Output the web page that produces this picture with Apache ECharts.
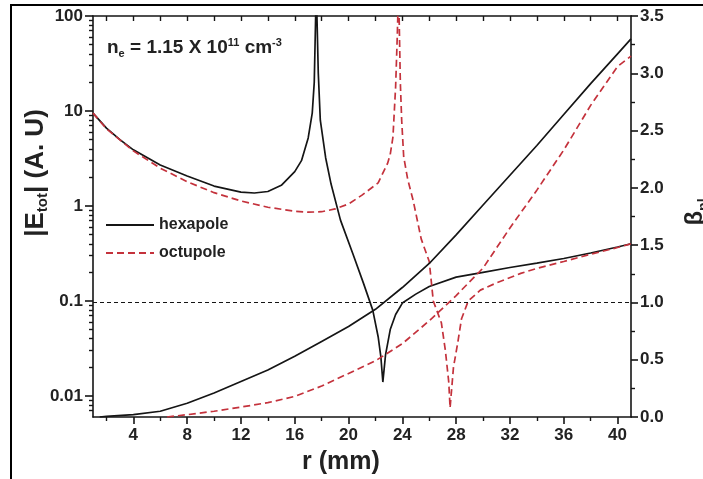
<!DOCTYPE html>
<html>
<head>
<meta charset="utf-8">
<title>E_tot vs r</title>
<script src="https://cdn.jsdelivr.net/npm/echarts@6/dist/echarts.min.js"></script>
<style>
  html, body { margin: 0; padding: 0; background: #fff; }
  #chart { width: 703px; height: 479px; }
</style>
</head>
<body>
<div id="chart"></div>
<script>
// r (mm) ticks
const xMajor = [4, 8, 12, 16, 20, 24, 28, 32, 36, 40];
const xMinor = [2, 6, 10, 14, 18, 22, 26, 30, 34, 38];
const yLogLabels = [0.01, 0.1, 1, 10, 100];

// |E_tot| hexapole (left, log)
const hexR = [1, 2, 3, 4, 6, 8, 10, 12, 13, 14, 15, 16, 16.5, 17, 17.3, 17.45, 17.6, 17.75, 17.9, 18.3, 18.7, 19.4, 20.3, 21.1, 21.8, 22.2, 22.4, 22.55, 22.75, 23.1, 23.5, 24, 25, 26, 28, 30, 32, 34, 36, 38, 40, 41];
const hexE = [9.5, 6.6, 5.0, 3.9, 2.7, 2.07, 1.62, 1.4, 1.37, 1.42, 1.65, 2.3, 3.0, 5.2, 9.5, 20, 200, 25, 8, 3.2, 1.7, 0.71, 0.32, 0.155, 0.08, 0.042, 0.026, 0.014, 0.027, 0.05, 0.072, 0.095, 0.118, 0.142, 0.178, 0.2, 0.225, 0.25, 0.28, 0.32, 0.37, 0.4];

// |E_tot| octupole (left, log)
const octR = [1, 2, 4, 6, 8, 10, 12, 14, 16, 17, 18, 19, 20, 21, 22.2, 22.9, 23.1, 23.3, 23.5, 23.62, 23.72, 23.85, 23.95, 24.1, 24.4, 24.8, 25.4, 26.0, 26.3, 26.9, 27.2, 27.45, 27.55, 27.8, 28.1, 28.4, 28.9, 29.8, 31, 32.8, 34, 36, 38, 40, 41];
const octE = [9.5, 6.5, 3.8, 2.5, 1.8, 1.38, 1.13, 0.97, 0.88, 0.86, 0.87, 0.93, 1.05, 1.3, 1.75, 2.8, 3.5, 5.3, 18, 60, 200, 20, 8, 3.3, 1.9, 1.15, 0.45, 0.26, 0.1, 0.059, 0.03, 0.014, 0.0075, 0.02, 0.035, 0.065, 0.1, 0.13, 0.155, 0.195, 0.22, 0.26, 0.31, 0.365, 0.4];

// beta hexapole (right)
const hexBetaR = [1.5, 2, 4, 6, 8, 10, 12, 14, 16, 18, 20, 22, 24, 26, 28, 30, 32, 34, 36, 38, 40, 41];
const hexBeta = [0, 0.005, 0.02, 0.05, 0.12, 0.21, 0.31, 0.41, 0.53, 0.66, 0.79, 0.94, 1.13, 1.34, 1.59, 1.85, 2.11, 2.37, 2.64, 2.91, 3.17, 3.3];

// beta octupole (right)
const octBetaR = [6.5, 8, 10, 12, 14, 16, 18, 20, 22, 24, 26, 28, 30, 32, 34, 36, 38, 40, 41];
const octBeta = [0, 0.02, 0.05, 0.087, 0.125, 0.18, 0.27, 0.38, 0.49, 0.64, 0.84, 1.06, 1.3, 1.65, 1.98, 2.33, 2.72, 3.06, 3.15];

const pairs = (xs, ys) => xs.map((x, i) => [x, ys[i]]);

// log minor ticks 2..9 per decade
const logMinor = [];
for (let e = -3; e <= 1; e++) {
  for (let k = 2; k <= 9; k++) {
    const v = Number((k * Math.pow(10, e)).toPrecision(3));
    if (v > 0.006 && v < 100) logMinor.push(v);
  }
}

const font = '"Liberation Sans", Arial, sans-serif';
const black = '#151515';
const red = '#c4323c';

const chart = echarts.init(document.getElementById('chart'), null, { renderer: 'canvas' });

const lineBase = {
  type: 'line',
  symbol: 'none',
  smooth: false,
  clip: true,
  animation: false,
};

const options = {
  animation: false,
  grid: { left: 93, right: 72, top: 16, bottom: 62 },
  legend: {
    orient: 'vertical',
    left: 100,
    top: 212,
    itemWidth: 48,
    itemHeight: 14,
    itemGap: 12,
    data: ['hexapole', 'octupole'],
    itemStyle: { opacity: 0 },
    textStyle: { fontFamily: font, fontWeight: 'bold', fontSize: 16, color: '#222' },
  },
  xAxis: [
    {
      type: 'value',
      min: 1,
      max: 41,
      position: 'bottom',
      axisLine: { show: true, lineStyle: { color: black, width: 1.6 } },
      axisTick: { show: true, customValues: xMajor, length: 7, lineStyle: { color: black, width: 1.6 } },
      axisLabel: { customValues: xMajor, margin: 10, fontFamily: font, fontWeight: 'bold', fontSize: 17, color: '#222' },
      splitLine: { show: false },
    },
    {
      type: 'value',
      min: 1,
      max: 41,
      position: 'bottom',
      axisLine: { show: false },
      axisTick: { show: true, customValues: xMinor, length: 4, lineStyle: { color: black, width: 1.4 } },
      axisLabel: { show: false },
      splitLine: { show: false },
    },
    {
      type: 'value',
      min: 1,
      max: 41,
      position: 'top',
      axisLine: { show: true, lineStyle: { color: black, width: 1.6 } },
      axisTick: { show: true, inside: true, customValues: xMajor.concat(xMinor), length: 5, lineStyle: { color: black, width: 1.4 } },
      axisLabel: { show: false },
      splitLine: { show: false },
    },
  ],
  yAxis: [
    {
      type: 'log',
      logBase: 10,
      min: 0.006,
      max: 100,
      position: 'left',
      axisLine: { show: true, lineStyle: { color: black, width: 1.6 } },
      axisTick: { show: true, customValues: yLogLabels, length: 8, lineStyle: { color: black, width: 1.6 } },
      axisLabel: {
        customValues: yLogLabels,
        margin: 10,
        formatter: (v) => String(v),
        fontFamily: font, fontWeight: 'bold', fontSize: 17, color: '#222',
      },
      splitLine: { show: false },
    },
    {
      type: 'log',
      logBase: 10,
      min: 0.006,
      max: 100,
      position: 'left',
      axisLine: { show: false },
      axisTick: { show: true, customValues: logMinor, length: 4, lineStyle: { color: black, width: 1.4 } },
      axisLabel: { show: false },
      splitLine: { show: false },
    },
    {
      type: 'value',
      min: 0,
      max: 3.5,
      interval: 0.5,
      position: 'right',
      axisLine: { show: true, lineStyle: { color: black, width: 1.6 } },
      axisTick: { show: true, length: 7, lineStyle: { color: black, width: 1.6 } },
      minorTick: { show: true, splitNumber: 2, length: 4, lineStyle: { color: black, width: 1.4 } },
      axisLabel: {
        margin: 9,
        formatter: (v) => v.toFixed(1),
        fontFamily: font, fontWeight: 'bold', fontSize: 17, color: '#222',
      },
      splitLine: { show: false },
      minorSplitLine: { show: false },
    },
  ],
  series: [
    {
      ...lineBase,
      name: 'hexapole',
      xAxisIndex: 0,
      yAxisIndex: 0,
      lineStyle: { color: black, width: 1.7 },
      itemStyle: { color: black },
      data: pairs(hexR, hexE),
    },
    {
      ...lineBase,
      name: 'octupole',
      xAxisIndex: 0,
      yAxisIndex: 0,
      lineStyle: { color: red, width: 1.7, type: [7, 4] },
      itemStyle: { color: red },
      data: pairs(octR, octE),
    },
    {
      ...lineBase,
      name: 'hexapole',
      xAxisIndex: 0,
      yAxisIndex: 2,
      lineStyle: { color: black, width: 1.7 },
      itemStyle: { color: black },
      data: pairs(hexBetaR, hexBeta),
      markLine: {
        silent: true,
        symbol: 'none',
        label: { show: false },
        lineStyle: { color: black, width: 1, type: [4, 3] },
        data: [{ yAxis: 1 }],
      },
    },
    {
      ...lineBase,
      name: 'octupole',
      xAxisIndex: 0,
      yAxisIndex: 2,
      lineStyle: { color: red, width: 1.7, type: [7, 4] },
      itemStyle: { color: red },
      data: pairs(octBetaR, octBeta),
    },
  ],
  graphic: [
    // outer frame of the figure
    { type: 'line', shape: { x1: 10, y1: 5, x2: 703, y2: 5 }, style: { stroke: '#000', lineWidth: 2 } },
    { type: 'line', shape: { x1: 11, y1: 5, x2: 11, y2: 479 }, style: { stroke: '#000', lineWidth: 2 } },
    {
      type: 'text',
      left: 107,
      top: 37,
      style: {
        text: 'n{sub|e} = 1.15 X 10{sup|11} cm{sup|-3}',
        fontFamily: font, fontWeight: 'bold', fontSize: 19, fill: '#222',
        rich: {
          sub: { fontFamily: font, fontWeight: 'bold', fontSize: 11, fill: '#222', padding: [11, 0, 0, 0] },
          sup: { fontFamily: font, fontWeight: 'bold', fontSize: 11, fill: '#222', padding: [0, 0, 11, 0] },
        },
      },
    },
    {
      type: 'text',
      x: 36,
      y: 173,
      rotation: Math.PI / 2,
      style: {
        text: '|E{sub|tot}| (A. U)',
        align: 'center',
        verticalAlign: 'middle',
        fontFamily: font, fontWeight: 'bold', fontSize: 26, fill: '#222',
        rich: {
          sub: { fontFamily: font, fontWeight: 'bold', fontSize: 15, fill: '#222', padding: [14, 0, 0, 0] },
        },
      },
    },
    {
      type: 'text',
      x: 341,
      y: 462,
      style: {
        text: 'r (mm)',
        align: 'center',
        verticalAlign: 'middle',
        fontFamily: font, fontWeight: 'bold', fontSize: 25, fill: '#222',
      },
    },
    {
      type: 'text',
      x: 695,
      y: 212,
      rotation: Math.PI / 2,
      style: {
        text: 'β{sub|pl}',
        align: 'center',
        verticalAlign: 'middle',
        fontFamily: font, fontWeight: 'bold', fontSize: 24, fill: '#222',
        rich: {
          sub: { fontFamily: font, fontWeight: 'bold', fontSize: 14, fill: '#222', padding: [18, 0, 0, 0] },
        },
      },
    },
  ],
};

chart.setOption(options);
window.addEventListener('resize', () => chart.resize());
</script>
</body>
</html>
